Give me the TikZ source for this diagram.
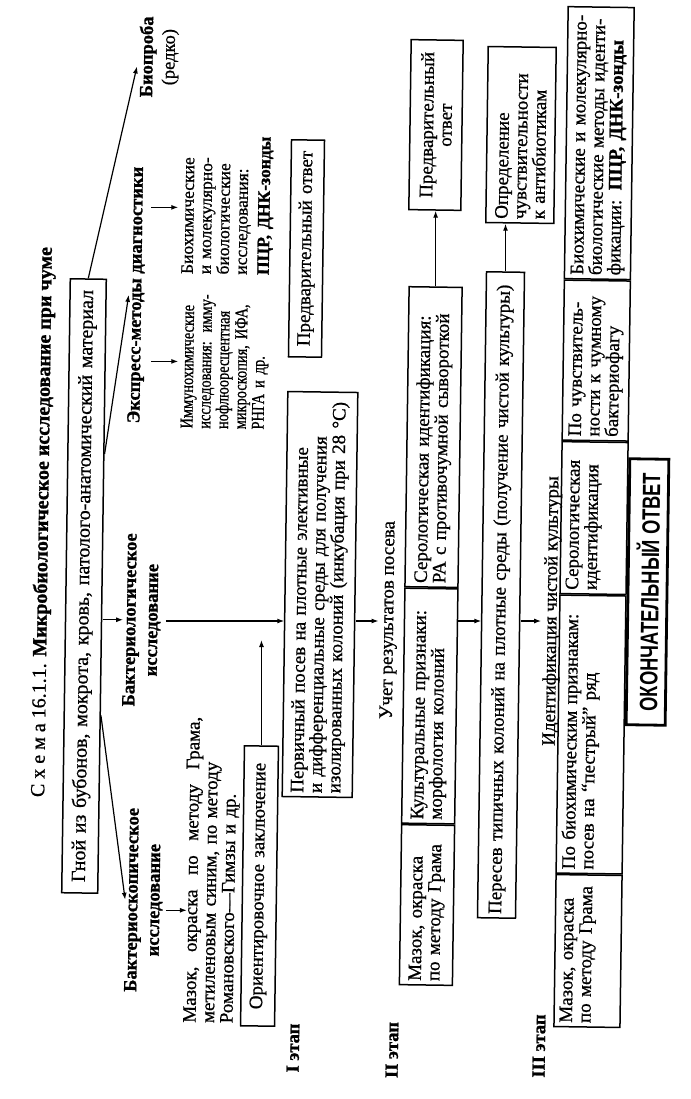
\documentclass[tikz,border=0pt]{standalone}
\usepackage{fontspec}
\setmainfont{Liberation Serif}[UprightFeatures={FakeBold=0.8},BoldFeatures={FakeBold=1.2}]
\newfontfamily\serifcond{Liberation Serif}[FakeStretch=0.8,UprightFeatures={FakeBold=0.8},BoldFeatures={FakeBold=1.2}]
\newfontfamily\condsans[FakeStretch=0.73]{Liberation Sans}
\usetikzlibrary{arrows.meta,calc}
\newcommand\mybase{\fontsize{19}{18.5}\selectfont}
\newcommand\mysmall{\fontsize{17.5}{18}\selectfont}
\newcommand\mycond{\serifcond\fontsize{18}{17.8}\selectfont}
\newcommand\myhead{\fontsize{18.5}{22}\selectfont\bfseries}
\begin{document}
\begin{tikzpicture}[x=1pt,y=-1pt,
  rot/.style={rotate=89.2},
  txt/.style={rot,inner sep=0pt,font=\mybase},
  hd/.style={rot,inner sep=0pt,font=\myhead,align=center},
  box/.style={rot,draw,line width=1.5pt,inner xsep=4pt,inner ysep=0pt,font=\mybase},
  arr/.style={-{Latex[length=7pt,width=5pt]},line width=1.2pt}]
\fill[white] (0,0) rectangle (690,1099);
\useasboundingbox (0,0) rectangle (690,1099);
\coordinate (axis) at (0,621);

% title and source material
\node[txt,font=\fontsize{20}{22}\selectfont] (title) at (43,522) {С х е м а 16.1.1. \textbf{Микробиологическое исследование при чуме}};
\node[box,font=\fontsize{20}{22}\selectfont,text width=606pt,minimum height=36pt,align=center] (gnoi) at (84,586) {Гной из бубонов, мокрота, кровь, патолого-анатомический материал};

% first level
\node[hd] (bio) at (159,57) {Биопроба\\\mdseries(редко)};
\node[hd] (exp) at (137,295) {Экспресс-методы диагностики};
\node[hd] (bsk) at (144,900) {Бактериоскопическое\\исследование};
\node[hd] (bkl) at (142,620) {Бактериологическое\\исследование};

\node[txt,font=\mycond,text width=142pt,align=left] (imm) at (225,358) {Иммунохимические\\исследования: имму-\\нофлюоресцентная\\микроскопия, ИФА,\\РНГА и др.};
\node[txt,font=\mysmall,text width=165pt,align=left] (biohim) at (228,192) {Биохимические\\и молекулярно-\\биологические\\исследования:\\[4pt]\textbf{ПЦР, ДНК-зонды}};
\node[box,text width=209pt,minimum height=33pt,align=center] (pred1) at (306.5,248.5) {Предварительный ответ};

\node[txt,text width=306pt,align=left] (mz1) at (212,870) {Мазок,\hfill окраска\hfill по\hfill методу\hfill Грама,\\метиленовым синим, по методу\\Романовского—Гимзы и др.};
\node[box,text width=272pt,minimum height=34pt,align=center] (orient) at (259.5,886) {Ориентировочное заключение};

% stage I
\node[box,text width=397pt,minimum height=70pt,align=left] (perv) at (320,594.5) {Первичный посев на плотные элективные\\и дифференциальные среды для получения\\изолированных колоний (инкубация при 28~°С)};
\node[hd] (e1) at (293,1048) {I этап};

% stage II
\node[txt] (uch) at (389,620) {Учет результатов посева};
\node[box,text width=152pt,minimum height=53pt,align=left] (mz2) at (427,905) {Мазок, окраска\\по методу Грама};
\node[box,text width=227pt,minimum height=53pt,align=left,anchor=west] (kult2) at (mz2.east) {Культуральные признаки:\\морфология колоний};
\node[box,text width=292pt,minimum height=53pt,align=left,anchor=west] (ser2) at (kult2.east) {Серологическая идентификация:\\РА с противочумной сывороткой};
\node[box,text width=162pt,minimum height=52pt,align=center] (pred2) at (436,125) {Предварительный\\ответ};
\node[hd] (e2) at (392,1050) {II этап};

\node[box,text width=638pt,minimum height=38pt,align=left] (per) at (501,595) {Пересев типичных колоний на плотные среды (получение чистой культуры)};
\node[box,text width=168pt,minimum height=68pt,align=left] (opr) at (521,135) {Определение\\чувствительности\\к антибиотикам};
\node[txt] (ident) at (552,611) {Идентификация чистой культуры};

% stage III
\node[box,text width=144pt,minimum height=66pt,align=left] (mz3) at (588,951) {Мазок, окраска\\по методу Грама\\\strut};
\node[box,text width=270pt,minimum height=66pt,align=left,anchor=west] (bh3) at (mz3.east) {По биохимическим признакам:\\посев на “пестрый” ряд\\\strut};
\node[box,text width=144pt,minimum height=66pt,align=left,anchor=west] (ser3) at (bh3.east) {Серологическая\\идентификация\\\strut};
\node[box,text width=152pt,minimum height=66pt,align=left,anchor=west] (chu3) at (ser3.east) {По чувствитель-\\ности к чумному\\бактериофагу};
\node[box,text width=264pt,minimum height=66pt,align=left,anchor=west] (bm3) at (chu3.east) {Биохимические и молекулярно-\\биологические методы иденти-\\фикации: \textbf{ПЦР, ДНК-зонды}};
\node[hd] (e3) at (539,1046) {III этап};
\node[rot,draw,line width=2.8pt,minimum width=266pt,minimum height=39pt,inner sep=0pt,font=\fontsize{25}{28}\selectfont\condsans\bfseries] (okon) at (647.5,592) {ОКОНЧАТЕЛЬНЫЙ ОТВЕТ};

% connectors
\draw[arr,shorten >=10pt] (gnoi.east) -- (bio.north);
\draw[arr] ($(gnoi.south)!0.43!(gnoi.south east)$) -- (exp.north);
\draw[arr] (gnoi.south |- bkl.north) -- (bkl.north);
\draw[arr] ($(gnoi.south)!0.42!(gnoi.south west)$) -- (bsk.north);
\draw[arr] ($(exp.south |- biohim.north)+(6,16)$) -- ($(exp.south |- biohim.north)+(33,16)$);
\draw[arr] ($(exp.south |- imm.north)+(6,4)$) -- ($(exp.south |- imm.north)+(33,4)$);
\draw[arr] ($(bsk.south)+(3,10)$) -- ($(bsk.south)+(24,10)$);
\draw[arr,shorten <=5pt] (bkl.south |- axis) -- (perv.north |- axis);
\draw[arr] (orient.east) -- ($(orient.east |- axis)+(0,19)$);
\draw[arr] (perv.south |- axis) -- ($(uch.north |- axis)+(-2,0)$);
\draw[arr] (kult2.south |- axis) -- (per.north |- axis);
\draw[arr] (ser2.east) -- (ser2.east |- pred2.west);
\draw[arr] (per.east) -- (per.east |- opr.west);
\draw[arr] (per.south |- axis) -- ($(ident.north |- axis)+(-2,0)$);
\end{tikzpicture}
\end{document}
